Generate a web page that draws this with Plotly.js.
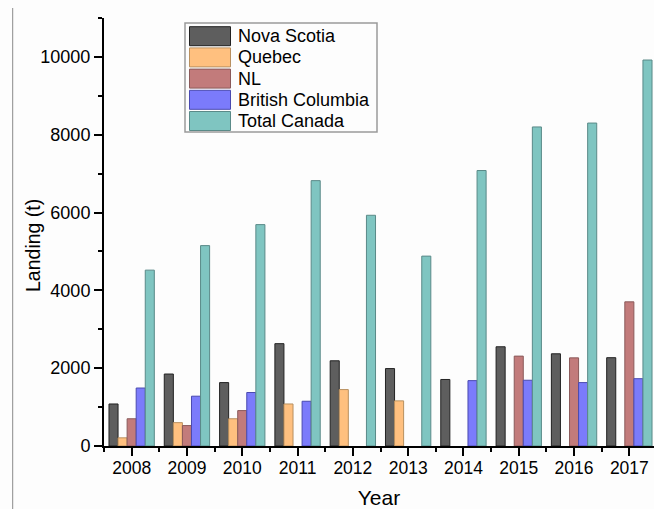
<!DOCTYPE html>
<html>
<head>
<meta charset="utf-8">
<script src="https://cdn.plot.ly/plotly-3.0.1.min.js"></script>
<style>
html,body{margin:0;padding:0;background:#fdfdfd;}
#chart{width:654px;height:509px;}
</style>
</head>
<body>
<div id="chart"></div>
<script>
// ---- data ----
var years = ["2008","2009","2010","2011","2012","2013","2014","2015","2016","2017"];
var seriesNames = ["Nova Scotia","Quebec","NL","British Columbia","Total Canada"];
var novaScotia = [1080, 1850, 1630, 2630, 2190, 1990, 1710, 2550, 2370, 2270];
var quebec     = [210, 600, 700, 1080, 1450, 1160, null, null, null, null];
var nl         = [700, 525, 910, null, null, null, null, 2310, 2265, 3705];
var britishColumbia = [1490, 1280, 1375, 1150, null, null, 1680, 1690, 1630, 1730];
var totalCanada = [4520, 5150, 5690, 6820, 5930, 4880, 7080, 8200, 8300, 9920];
var yTickVals = [0, 2000, 4000, 6000, 8000, 10000];
var xTitle = "Year";
var yTitle = "Landing (t)";

// ---- styles ----
var fillColors = ["#5e5e5e", "#ffc07f", "#c27b7b", "#7b7bfb", "#7fc5c1"];
var lineColors = ["#222222", "#b89060", "#8a5a5a", "#4a4ab0", "#5a8a88"];
var seriesValues = [novaScotia, quebec, nl, britishColumbia, totalCanada];

var W = 654, H = 509;
var mL = 104, mR = 0, mT = 18, mB = 63;
var plotW = W - mL - mR, plotH = H - mT - mB;
var catW = 55.3;
var xMax = -0.5 + plotW / catW;

function px2x(px){ return (px - mL) / plotW; }
function py2y(py){ return (H - mB - py) / plotH; }

var xIdx = years.map(function(_, i){ return i; });

var traces = seriesNames.map(function(name, k){
  return {
    type: 'bar',
    name: name,
    x: xIdx,
    y: seriesValues[k],
    marker: {color: fillColors[k], line: {color: lineColors[k], width: 1}},
    showlegend: false,
    hoverinfo: 'x+y'
  };
});

// manual legend (large swatches like the original)
var shapes = [];
var annotations = [];
var lgLeft = 185, lgTop = 23, lgRight = 377, lgBottom = 132;
shapes.push({type:'rect', xref:'paper', yref:'paper',
  x0: px2x(lgLeft), x1: px2x(lgRight), y0: py2y(lgBottom), y1: py2y(lgTop),
  line:{color:'#9a9a9a', width:1.5}, fillcolor:'rgba(0,0,0,0)', layer:'above'});
seriesNames.forEach(function(name, k){
  var cy = 36.2 + k * 21.2;
  shapes.push({type:'rect', xref:'paper', yref:'paper',
    x0: px2x(189.5), x1: px2x(230.5), y0: py2y(cy + 9.5), y1: py2y(cy - 9.5),
    line:{color: lineColors[k], width:1}, fillcolor: fillColors[k], layer:'above'});
  annotations.push({xref:'paper', yref:'paper', x: px2x(236), y: py2y(cy),
    xanchor:'left', yanchor:'middle', showarrow:false, text: name,
    font:{family:'Liberation Sans, Arial, sans-serif', size:18, color:'#000'}});
});
// y-axis title (placed like the original, slightly below the axis centre)
annotations.push({xref:'paper', yref:'paper', x: px2x(33), y: py2y(246),
  xanchor:'center', yanchor:'middle', showarrow:false, textangle:-90, text: yTitle,
  font:{family:'Liberation Sans, Arial, sans-serif', size:19.5, color:'#000'}});
// thin frame line at far left of the figure
shapes.push({type:'line', xref:'paper', yref:'paper',
  x0: px2x(12.7), x1: px2x(12.7), y0: py2y(H + 2), y1: py2y(8),
  line:{color:'#8a8a8a', width:1}});

var layout = {
  width: W, height: H,
  margin: {l: mL, r: mR, t: mT, b: mB, pad: 0},
  paper_bgcolor: '#fdfdfd',
  plot_bgcolor: '#fdfdfd',
  font: {family: 'Liberation Sans, Arial, sans-serif', color: '#000'},
  barmode: 'group',
  bargap: 0.18,
  bargroupgap: 0,
  showlegend: false,
  xaxis: {
    type: 'linear',
    range: [-0.5, xMax],
    tickmode: 'array',
    tickvals: xIdx,
    ticktext: years,
    ticks: 'outside', ticklen: 8, tickwidth: 2, tickcolor: '#000',
    minor: {tick0: -0.5, dtick: 1, ticks: 'outside', ticklen: 4, tickwidth: 2, tickcolor: '#000'},
    showline: true, linecolor: '#000', linewidth: 2,
    showgrid: false, zeroline: false,
    tickfont: {size: 17.5},
    ticklabelstandoff: -3,
    title: {text: xTitle, font: {size: 21}, standoff: 14},
    automargin: false
  },
  yaxis: {
    range: [0, 11000],
    tickmode: 'array',
    tickvals: yTickVals,
    tickformat: 'd',
    ticks: 'outside', ticklen: 8, tickwidth: 2, tickcolor: '#000',
    minor: {tick0: 0, dtick: 1000, ticks: 'outside', ticklen: 4, tickwidth: 2, tickcolor: '#000'},
    showline: true, linecolor: '#000', linewidth: 2,
    showgrid: false, zeroline: false,
    tickfont: {size: 18},
    automargin: false
  },
  shapes: shapes,
  annotations: annotations
};

Plotly.newPlot('chart', traces, layout, {displayModeBar: false, staticPlot: true});
</script>
</body>
</html>
